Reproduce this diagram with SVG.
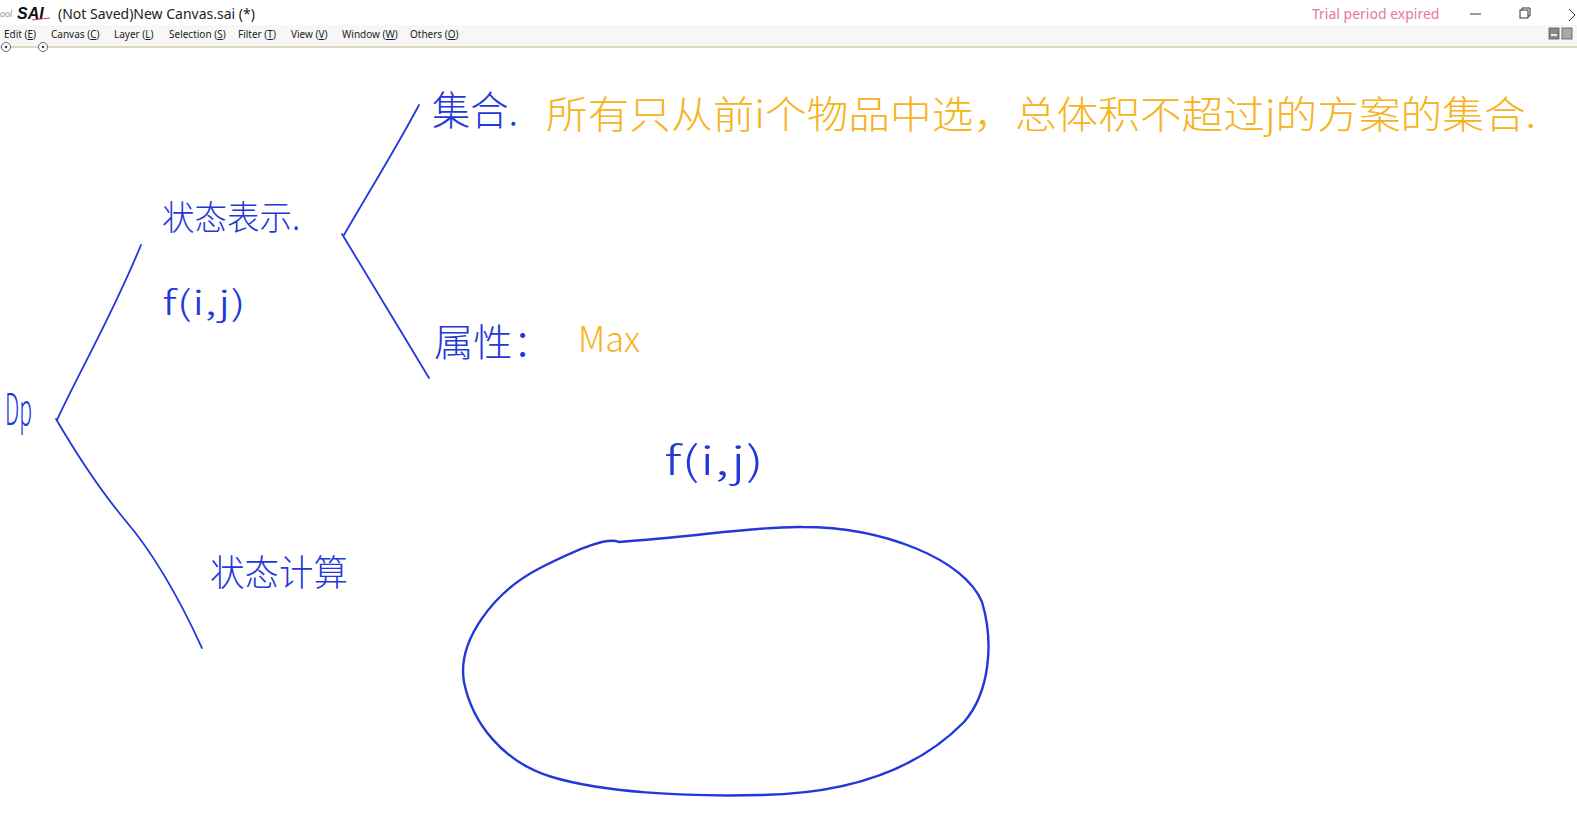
<svg xmlns="http://www.w3.org/2000/svg" width="1577" height="830" viewBox="0 0 1577 830">
<style>
.ui{font-family:"Segoe UI","Noto Sans","Liberation Sans",sans-serif;fill:#222}
.menu{font-size:10px}
.blue{fill:#2338d8;font-family:"Noto Sans CJK SC","Noto Sans",sans-serif;font-weight:300}
.orange{fill:#f6b31c;font-family:"Noto Sans CJK SC","Noto Sans",sans-serif;font-weight:300}
.stroke{fill:none;stroke:#2338d8;stroke-width:1.8;stroke-linecap:round;stroke-linejoin:round}
</style>
<rect width="1577" height="830" fill="#ffffff"/>
<g id="titlebar">
<rect x="0" y="0" width="1577" height="25" fill="#ffffff"/>
<text x="0" y="17" font-family="Liberation Sans,sans-serif" font-size="9" fill="#999" font-style="italic">ool</text>
<text x="17" y="19" font-family="Liberation Sans,sans-serif" font-size="16" font-weight="bold" font-style="italic" fill="#111">SAI</text>
<line x1="32" y1="20" x2="50" y2="18" stroke="#d04060" stroke-width="1"/>
<text x="58" y="19" class="ui" font-size="14">(Not Saved)New Canvas.sai (*)</text>
<text x="1312" y="19" font-family="Segoe UI,Noto Sans,Liberation Sans,sans-serif" font-size="14" fill="#e8798f">Trial period expired</text>
<line x1="1470" y1="14" x2="1481" y2="14" stroke="#333" stroke-width="1"/>
<rect x="1520" y="10" width="8" height="8" fill="none" stroke="#333" stroke-width="1"/>
<path d="M1522 10 V8 H1530 V16 H1528" fill="none" stroke="#333" stroke-width="1"/>
<path d="M1569 9 L1575 15 M1569 21 L1575 15" fill="none" stroke="#333" stroke-width="1"/>
</g>
<g id="menubar">
<rect x="0" y="25" width="1577" height="21" fill="#f7f7f7"/>
<g class="ui menu">
<text x="4" y="38">Edit (<tspan text-decoration="underline">E</tspan>)</text>
<text x="51" y="38">Canvas (<tspan text-decoration="underline">C</tspan>)</text>
<text x="114" y="38">Layer (<tspan text-decoration="underline">L</tspan>)</text>
<text x="169" y="38">Selection (<tspan text-decoration="underline">S</tspan>)</text>
<text x="238" y="38">Filter (<tspan text-decoration="underline">T</tspan>)</text>
<text x="291" y="38">View (<tspan text-decoration="underline">V</tspan>)</text>
<text x="342" y="38">Window (<tspan text-decoration="underline">W</tspan>)</text>
<text x="410" y="38">Others (<tspan text-decoration="underline">O</tspan>)</text>
</g>
<rect x="1549" y="28" width="10" height="11" fill="#888" stroke="#555" stroke-width="0.8"/>
<rect x="1562" y="28" width="10" height="11" fill="#aaa" stroke="#555" stroke-width="0.8"/>
<rect x="1551" y="34" width="6" height="2" fill="#eee"/>
<line x1="0" y1="47" x2="1577" y2="47" stroke="#d9c8a8" stroke-width="1.5"/>
<circle cx="6" cy="47" r="4.5" fill="#fff" stroke="#666" stroke-width="1"/>
<circle cx="6" cy="47" r="1.3" fill="#444"/>
<circle cx="43" cy="47" r="4.5" fill="#fff" stroke="#666" stroke-width="1"/>
<circle cx="43" cy="47" r="1.3" fill="#444"/>
</g>
<g id="connectors">
<path class="stroke" d="M57 420 C80 370 110 320 141 245"/>
<path class="stroke" d="M56 419 C80 460 100 490 125 520 C155 555 180 600 202 648"/>
<path class="stroke" d="M344 235 C370 190 395 150 419 105"/>
<path class="stroke" d="M342 234 C370 280 400 330 429 378"/>
</g>
<g id="node-dp"><text class="blue" x="5" y="425" font-size="44" textLength="27" lengthAdjust="spacingAndGlyphs">Dp</text></g>
<g id="node-state-repr">
<text class="blue" x="162" y="230" font-size="34" textLength="138" lengthAdjust="spacingAndGlyphs">状态表示.</text>
<text class="blue" x="162" y="315" font-size="34" textLength="84" lengthAdjust="spacingAndGlyphs">f(i,j)</text>
</g>
<g id="node-set">
<text class="blue" x="432" y="125" font-size="40" textLength="86" lengthAdjust="spacingAndGlyphs">集合.</text>
<text class="orange" x="546" y="128" font-size="38" textLength="990" lengthAdjust="spacingAndGlyphs">所有只从前i个物品中选，总体积不超过j的方案的集合.</text>
</g>
<g id="node-attr">
<text class="blue" x="434" y="356" font-size="38" textLength="118" lengthAdjust="spacingAndGlyphs">属性：</text>
<text class="orange" x="578" y="352" font-size="36" textLength="62" lengthAdjust="spacingAndGlyphs">Max</text>
</g>
<g id="node-state-calc">
<text class="blue" x="210" y="586" font-size="36" textLength="138" lengthAdjust="spacingAndGlyphs">状态计算</text>
</g>
<g id="node-fij">
<text class="blue" x="664" y="475" font-size="40" textLength="100" lengthAdjust="spacingAndGlyphs">f(i,j)</text>
</g>
<g id="node-ellipse">
<path d="M619 542 C700 536 760 526 802 527 C885 527 965 560 982 602 C994 642 990 692 964 722 C925 762 862 793 762 795 C682 797 602 792 552 777 C502 762 472 722 464 682 C457 642 492 592 542 567 C582 547 608 537 619 542 Z" fill="none" stroke="#2338d8" stroke-width="2.4"/>
</g>
</svg>
